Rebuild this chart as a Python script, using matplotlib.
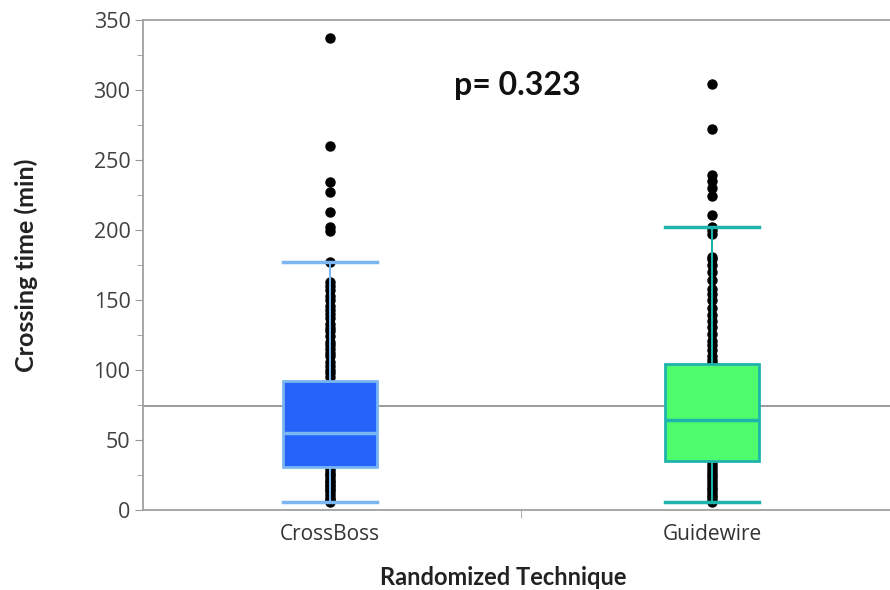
import matplotlib
matplotlib.use("Agg")
import matplotlib.pyplot as plt

plt.rcParams['font.family'] = ['Open Sans', 'DejaVu Sans']

groups = ["CrossBoss", "Guidewire"]

# box statistics (minutes)
q1 = [31, 35]
medians = [55, 64]
q3 = [92, 104]
whisker_lo = [6, 6]
whisker_hi = [177, 202]
grand_mean = 74

crossboss = [6, 7, 8, 10, 12, 14, 15, 17, 18, 20, 21, 23, 25, 26, 28, 30,
             34, 40, 45, 50, 55, 60, 66, 72, 80, 86, 90,
             95, 98, 100, 103, 106, 110, 112, 115, 118, 120, 124, 128, 130,
             133, 137, 140, 143, 146, 150, 153, 157, 160, 163, 177,
             199, 202, 213, 227, 234, 260, 337]
guidewire = [6, 7, 9, 11, 13, 15, 16, 18, 20, 22, 24, 26, 28, 30, 32, 34,
             40, 46, 52, 58, 64, 70, 78, 85, 92, 100,
             105, 107, 110, 114, 118, 121, 126, 131, 135, 139, 144, 150,
             154, 158, 164, 170, 175, 179, 181, 197, 200, 202,
             211, 224, 230, 235, 239, 272, 304]

fills = ["#2563fb", "#4dfb6c"]
edges = ["#7ab6f2", "#1fb3ad"]
bold_font = ['Lato', 'DejaVu Sans']

fig = plt.figure(figsize=(8.9, 5.9), dpi=100)
ax = fig.add_axes([143 / 890, 80 / 590, 756 / 890, 490 / 590])

ax.axhline(grand_mean, color="#8a8a8a", lw=1.2, zorder=1)

for i, vals in enumerate([crossboss, guidewire]):
    ax.plot([i] * len(vals), vals, "o", color="black", ms=6.5, zorder=2)
    stats = [dict(q1=q1[i], med=medians[i], q3=q3[i],
                  whislo=whisker_lo[i], whishi=whisker_hi[i], fliers=[])]
    ax.bxp(stats, positions=[i], widths=0.245, patch_artist=True,
           showfliers=False, manage_ticks=False,
           boxprops=dict(facecolor=fills[i], edgecolor=edges[i], lw=2, zorder=3),
           medianprops=dict(color=edges[i], lw=2.5, zorder=4),
           whiskerprops=dict(color=edges[i], lw=1.5, zorder=3),
           capprops=dict(color=edges[i], lw=2.5, zorder=3),
           capwidths=0.245)

ax.text(0.325, 303, "p= 0.323", fontsize=23, fontweight="bold", va="center",
        family=bold_font, color="#111111")

ax.set_xlim(-0.49, 1.49)
ax.set_ylim(0, 350)
ax.set_yticks(range(0, 351, 50))
ax.set_yticks(range(25, 351, 50), minor=True)
ax.set_xticks([0, 1])
ax.set_xticklabels(groups)
ax.set_xticks([0.5], minor=True)
ax.tick_params(axis="x", which="major", length=0, pad=10, labelsize=15, labelcolor="#333333")
ax.tick_params(axis="x", which="minor", length=6, color="#999999")
ax.tick_params(axis="y", which="major", length=6, color="#999999", labelsize=15.5,
               labelcolor="#404040", pad=3)
ax.tick_params(axis="y", which="minor", length=4, color="#999999")

for s in ["left", "bottom", "top"]:
    ax.spines[s].set_color("#a0a0a0")
    ax.spines[s].set_linewidth(1.3)
ax.spines["right"].set_visible(False)

ax.set_ylabel("Crossing time (min)", fontsize=18, fontweight="bold", labelpad=40,
              family=bold_font, color="#222222")
ax.set_xlabel("Randomized Technique", fontsize=17, fontweight="bold",
              family=bold_font, color="#222222")
ax.xaxis.set_label_coords(0.476, -0.115)

fig.savefig("out.png", dpi=100)
